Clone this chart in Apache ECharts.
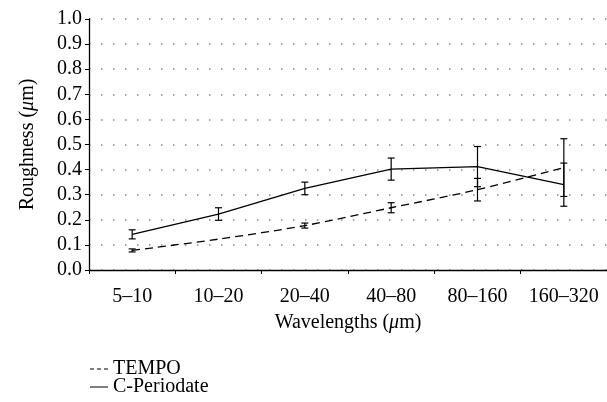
<!DOCTYPE html>
<html>
<head>
<meta charset="utf-8">
<script src="https://cdn.jsdelivr.net/npm/echarts@6/dist/echarts.min.js"></script>
<style>
html, body { margin: 0; padding: 0; background: #fff; }
#chart { width: 607px; height: 402px; }
</style>
</head>
<body>
<div id="chart"></div>
<script>
var categories = ['5–10', '10–20', '20–40', '40–80', '80–160', '160–320'];
var tempo = [0.078, 0.123, 0.177, 0.248, 0.32, 0.408];
var tempo_err = [0.006, 0, 0.01, 0.02, 0.045, 0.115];
var periodate = [0.142, 0.223, 0.325, 0.402, 0.412, 0.34];
var periodate_err = [0.018, 0.025, 0.025, 0.044, 0.08, 0.086];
var yTicks = [0, 0.1, 0.2, 0.3, 0.4, 0.5, 0.6, 0.7, 0.8, 0.9, 1.0];

var FONT = '"Liberation Serif", "DejaVu Serif", serif';

// error bar data: [category index, value, error]
function Err_data(values, errs){
    var out = [];
    for(var i=0;i<values.length;i++){
        if(errs[i] > 0){
            out.push([i, values[i], errs[i]]);
        }
    }
    return out;
}

function renderErr(params, api){
    var x = api.value(0);
    var v = api.value(1);
    var e = api.value(2);
    var top = api.coord([x, v + e]);
    var bot = api.coord([x, v - e]);
    var w = 3.5;
    var style = { stroke: '#000', lineWidth: 1.2 };
    return {
        type: 'group',
        children: [
            { type: 'line', shape: { x1: top[0], y1: top[1], x2: bot[0], y2: bot[1] }, style: style },
            { type: 'line', shape: { x1: top[0]-w, y1: top[1], x2: top[0]+w, y2: top[1] }, style: style },
            { type: 'line', shape: { x1: bot[0]-w, y1: bot[1], x2: bot[0]+w, y2: bot[1] }, style: style }
        ]
    };
}

function Legend_item(name, icon, top){
    return {
        left: 85,
        top: top,
        itemWidth: 18,
        itemHeight: 1.5,
        itemGap: 0,
        textStyle: { fontFamily: FONT, fontSize: 20, color: '#000' },
        data: [{ name: name, icon: icon }]
    };
}

var nameRich = {
    n: { fontFamily: FONT, fontSize: 20, color: '#000' },
    i: { fontFamily: FONT, fontSize: 20, color: '#000', fontStyle: 'italic' }
};

var myChart = echarts.init(document.getElementById('chart'));

var option = {
    animation: false,
    textStyle: { fontFamily: FONT },
    grid: { left: 89, top: 19, width: 524, height: 251, containLabel: false },
    legend: [
        Legend_item('TEMPO', 'path://M0,0h4v1h-4zM7,0h4v1h-4zM14,0h4v1h-4z', 354),
        Legend_item('C-Periodate', 'path://M0,0h18v1h-18z', 372)
    ],
    xAxis: {
        type: 'category',
        data: categories,
        boundaryGap: true,
        name: '{n|Wavelengths (}{i|μ}{n|m)}',
        nameLocation: 'middle',
        nameGap: 43,
        nameTextStyle: { fontFamily: FONT, fontSize: 20, color: '#000', rich: nameRich },
        axisLine: { lineStyle: { color: '#000', width: 1.3 } },
        axisTick: { show: true, inside: false, length: 4, lineStyle: { color: '#000' } },
        axisLabel: { interval: 0, fontFamily: FONT, fontSize: 20, color: '#000', margin: 17 },
        splitLine: { show: false }
    },
    yAxis: {
        type: 'value',
        min: 0,
        max: 1,
        interval: 0.1,
        name: '{n|Roughness (}{i|μ}{n|m)}',
        nameLocation: 'middle',
        nameGap: 51,
        nameTextStyle: { fontFamily: FONT, fontSize: 20, color: '#000', rich: nameRich },
        axisLine: { show: true, lineStyle: { color: '#000', width: 1.3 } },
        axisTick: { show: true, inside: false, length: 4, lineStyle: { color: '#000' } },
        axisLabel: {
            fontFamily: FONT, fontSize: 20, color: '#000', margin: 7,
            formatter: function(v){ return yTicks.indexOf(Math.round(v*10)/10) >= 0 ? v.toFixed(1) : ''; }
        },
        splitLine: { show: true, lineStyle: { color: '#8a8a8a', width: 1.5, type: [1.5, 10.5] } }
    },
    series: [
        {
            name: 'TEMPO',
            type: 'line',
            data: tempo,
            smooth: 0.3,
            symbol: 'none',
            lineStyle: { color: '#000', width: 1.3, type: [8, 5] },
            itemStyle: { color: '#000' },
            z: 3
        },
        {
            name: 'C-Periodate',
            type: 'line',
            data: periodate,
            symbol: 'none',
            lineStyle: { color: '#000', width: 1.3, type: 'solid' },
            itemStyle: { color: '#000' },
            z: 3
        },
        {
            name: 'TEMPO err',
            type: 'custom',
            renderItem: renderErr,
            data: Err_data(tempo, tempo_err),
            z: 4
        },
        {
            name: 'C-Periodate err',
            type: 'custom',
            renderItem: renderErr,
            data: Err_data(periodate, periodate_err),
            z: 4
        }
    ]
};

myChart.setOption(option);
</script>
</body>
</html>
